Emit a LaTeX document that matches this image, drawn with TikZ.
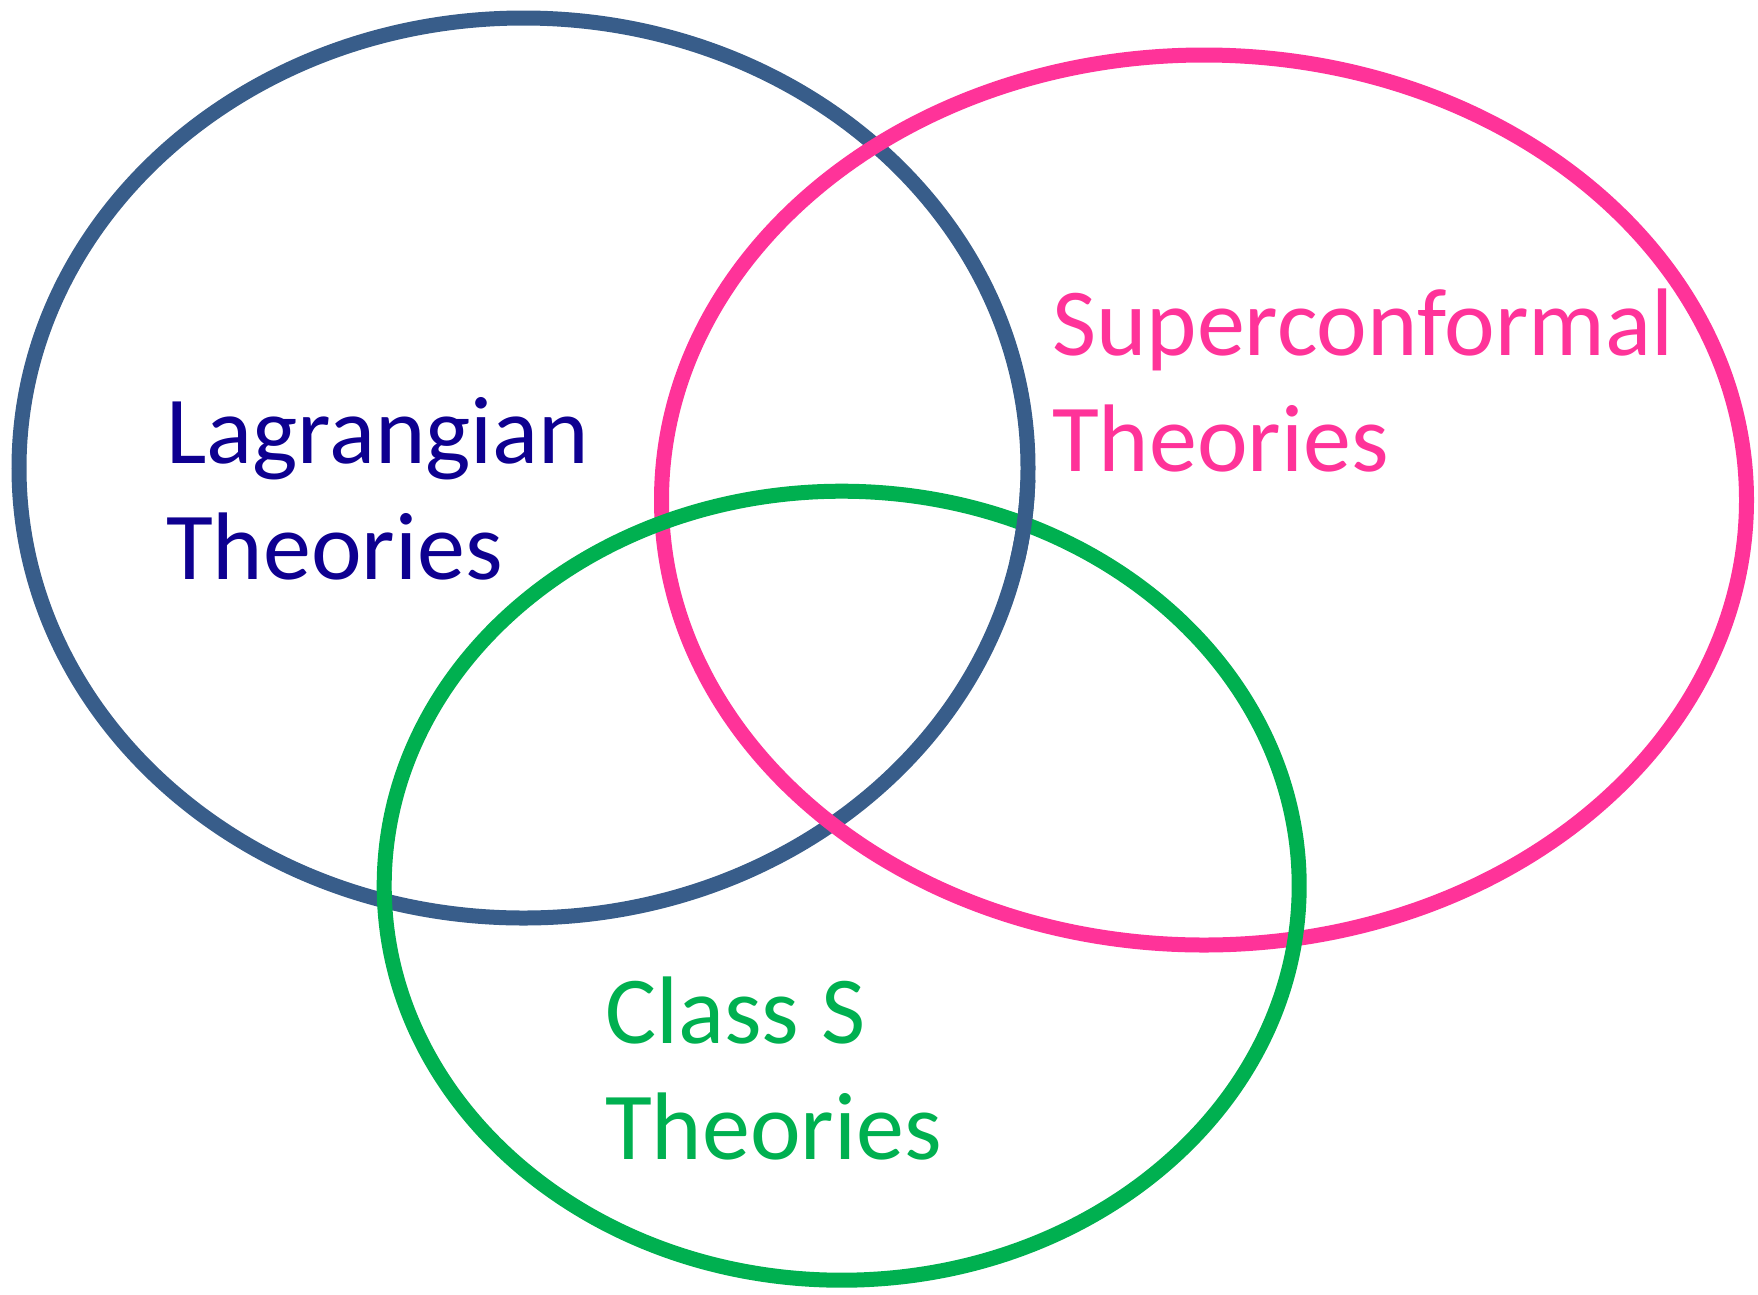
\documentclass[tikz,border=0pt]{standalone}
\usepackage{fontspec}
\setmainfont{Carlito}
\usetikzlibrary{shapes.geometric}
\definecolor{lagblue}{HTML}{385D8A}
\definecolor{lagtext}{HTML}{0E0090}
\definecolor{scpink}{HTML}{FF3399}
\definecolor{clsgreen}{HTML}{00B050}
\tikzset{
  setring/.style={ellipse, draw, line width=15pt, inner sep=0pt},
  setlabel/.style={inner sep=0pt, align=left, anchor=south west,
    font=\fontsize{96}{116}\selectfont}
}
\begin{document}
\begin{tikzpicture}[x=1pt,y=-1pt]
\useasboundingbox (0,0) rectangle (1758,1294);
\node[setring, draw=lagblue, minimum width=1009pt, minimum height=900pt] (lag) at (523.5,468) {};
\node[setring, draw=scpink, minimum width=1085pt, minimum height=890pt] (sc) at (1204,500) {};
\node[setring, draw=clsgreen, minimum width=915pt, minimum height=789pt] (cls) at (841.7,885.7) {};
% blue passes over green at the right crossing
\begin{scope}
  \clip (985,480) rectangle (1055,560);
  \draw[lagblue, line width=15pt] (lag.center) ellipse [x radius=504.5pt, y radius=450pt];
\end{scope}
\node[setlabel, text=lagtext] (laglabel) at (166,580) {Lagrangian\\Theories};
\node[setlabel, text=scpink] (sclabel) at (1052,472) {Superconformal\\Theories};
\node[setlabel, text=clsgreen] (clslabel) at (605,1160) {Class S\\Theories};
\end{tikzpicture}
\end{document}
